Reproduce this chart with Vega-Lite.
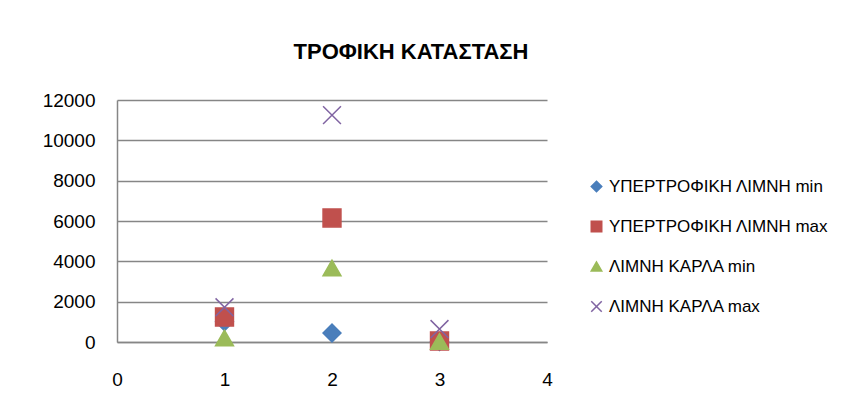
{
  "$schema": "https://vega.github.io/schema/vega-lite/v6.json",
  "width": 430,
  "height": 242,
  "autosize": {"type": "none"},
  "padding": {"left": 117, "top": 100, "right": 297, "bottom": 71},
  "background": "white",
  "title": {
    "text": "ΤΡΟΦΙΚΗ ΚΑΤΑΣΤΑΣΗ",
    "font": "Liberation Sans",
    "fontSize": 22,
    "fontWeight": "bold",
    "color": "#000000",
    "anchor": "middle",
    "frame": "group",
    "dx": 79,
    "offset": 5,
    "baseline": "bottom"
  },
  "data": {
    "values": [
      {"x": 1, "y": 1000, "series": "ΥΠΕΡΤΡΟΦΙΚΗ ΛΙΜΝΗ min"},
      {"x": 2, "y": 445, "series": "ΥΠΕΡΤΡΟΦΙΚΗ ΛΙΜΝΗ min"},
      {"x": 3, "y": 20, "series": "ΥΠΕΡΤΡΟΦΙΚΗ ΛΙΜΝΗ min"},
      {"x": 1, "y": 1240, "series": "ΥΠΕΡΤΡΟΦΙΚΗ ΛΙΜΝΗ max"},
      {"x": 2, "y": 6150, "series": "ΥΠΕΡΤΡΟΦΙΚΗ ΛΙΜΝΗ max"},
      {"x": 3, "y": 50, "series": "ΥΠΕΡΤΡΟΦΙΚΗ ΛΙΜΝΗ max"},
      {"x": 1, "y": 200, "series": "ΛΙΜΝΗ ΚΑΡΛΑ min"},
      {"x": 2, "y": 3670, "series": "ΛΙΜΝΗ ΚΑΡΛΑ min"},
      {"x": 3, "y": 30, "series": "ΛΙΜΝΗ ΚΑΡΛΑ min"},
      {"x": 1, "y": 1720, "series": "ΛΙΜΝΗ ΚΑΡΛΑ max"},
      {"x": 2, "y": 11250, "series": "ΛΙΜΝΗ ΚΑΡΛΑ max"},
      {"x": 3, "y": 640, "series": "ΛΙΜΝΗ ΚΑΡΛΑ max"}
    ]
  },
  "mark": {"type": "point", "filled": true, "opacity": 1, "strokeWidth": 1.5},
  "encoding": {
    "x": {
      "field": "x",
      "type": "quantitative",
      "scale": {"domain": [0, 4], "nice": false},
      "axis": {
        "title": null,
        "values": [0, 1, 2, 3, 4],
        "grid": false,
        "ticks": false,
        "domainColor": "#868686",
        "domainWidth": 1.5,
        "labelFont": "Liberation Sans",
        "labelFontSize": 19,
        "labelColor": "#000000",
        "labelPadding": 37,
        "labelBaseline": "middle",
        "labelFlush": false
      }
    },
    "y": {
      "field": "y",
      "type": "quantitative",
      "scale": {"domain": [0, 12000], "nice": false},
      "axis": {
        "title": null,
        "values": [0, 2000, 4000, 6000, 8000, 10000, 12000],
        "format": "d",
        "grid": true,
        "gridColor": "#868686",
        "gridWidth": 1.5,
        "ticks": false,
        "domainColor": "#868686",
        "domainWidth": 1.5,
        "labelFont": "Liberation Sans",
        "labelFontSize": 19,
        "labelColor": "#000000",
        "labelPadding": 22
      }
    },
    "fill": {
      "field": "series",
      "type": "nominal",
      "sort": null,
      "title": null,
      "scale": {
        "domain": ["ΥΠΕΡΤΡΟΦΙΚΗ ΛΙΜΝΗ min", "ΥΠΕΡΤΡΟΦΙΚΗ ΛΙΜΝΗ max", "ΛΙΜΝΗ ΚΑΡΛΑ min", "ΛΙΜΝΗ ΚΑΡΛΑ max"],
        "range": ["#4A7EBB", "#C0504D", "#9BBB59", "#8064A2"]
      },
      "legend": {
        "orient": "none",
        "legendX": 471,
        "legendY": 78,
        "labelFont": "Liberation Sans",
        "labelFontSize": 17,
        "labelColor": "#000000",
        "rowPadding": 22,
        "symbolSize": 110,
        "symbolStrokeWidth": 1.5,
        "labelOffset": 4,
        "labelLimit": 400
      }
    },
    "stroke": {
      "field": "series",
      "type": "nominal",
      "sort": null,
      "title": null,
      "scale": {
        "domain": ["ΥΠΕΡΤΡΟΦΙΚΗ ΛΙΜΝΗ min", "ΥΠΕΡΤΡΟΦΙΚΗ ΛΙΜΝΗ max", "ΛΙΜΝΗ ΚΑΡΛΑ min", "ΛΙΜΝΗ ΚΑΡΛΑ max"],
        "range": ["#4A7EBB", "#C0504D", "#9BBB59", "#8064A2"]
      }
    },
    "shape": {
      "field": "series",
      "type": "nominal",
      "sort": null,
      "title": null,
      "scale": {
        "domain": ["ΥΠΕΡΤΡΟΦΙΚΗ ΛΙΜΝΗ min", "ΥΠΕΡΤΡΟΦΙΚΗ ΛΙΜΝΗ max", "ΛΙΜΝΗ ΚΑΡΛΑ min", "ΛΙΜΝΗ ΚΑΡΛΑ max"],
        "range": ["diamond", "square", "triangle-up", "M-1,-1L1,1M-1,1L1,-1"]
      }
    },
    "size": {"value": 320}
  },
  "config": {
    "view": {"stroke": null}
  }
}
